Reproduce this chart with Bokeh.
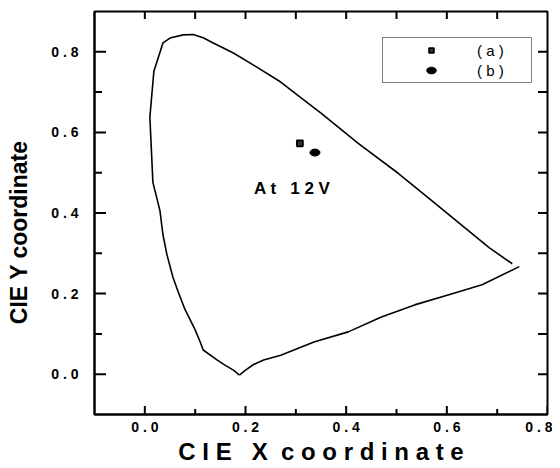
import math
from bokeh.plotting import figure
from bokeh.models import (FixedTicker, Range1d, CustomJSTickFormatter,
                          Label, Legend, LegendItem)
from bokeh.embed import file_html
from bokeh.resources import INLINE

# Spectral locus, from the bottom vertex up the left side,
# over the top and down to the red end
locus_x = [0.188, 0.176, 0.160, 0.144, 0.116, 0.110, 0.100, 0.080, 0.066, 0.056, 0.044,
           0.036, 0.030, 0.016, 0.010, 0.018, 0.036, 0.050, 0.076, 0.096, 0.116, 0.136,
           0.176, 0.216, 0.270, 0.304, 0.350, 0.424, 0.504, 0.570, 0.650, 0.684, 0.730]
locus_y = [-0.002, 0.010, 0.022, 0.035, 0.060, 0.080, 0.110, 0.160, 0.205, 0.240, 0.296,
           0.346, 0.406, 0.476, 0.638, 0.752, 0.822, 0.834, 0.842, 0.843, 0.835, 0.822,
           0.797, 0.767, 0.725, 0.692, 0.648, 0.573, 0.498, 0.431, 0.349, 0.314, 0.274]
# Purple line from the red end back to the vertex
purple_x = [0.744, 0.670, 0.604, 0.536, 0.470, 0.404, 0.336, 0.270, 0.236, 0.216, 0.200, 0.188]
purple_y = [0.267, 0.222, 0.197, 0.172, 0.142, 0.105, 0.080, 0.047, 0.035, 0.024, 0.010, -0.002]

a_x = [0.308]
a_y = [0.573]
b_x = [0.338]
b_y = [0.550]

major_ticks = [0.0, 0.2, 0.4, 0.6, 0.8]
minor_ticks = [0.1, 0.3, 0.5, 0.7]
top_ticks = [0.0, 0.1, 0.2, 0.3, 0.4, 0.5, 0.6, 0.7]
right_ticks = [0.0, 0.1, 0.2, 0.3, 0.4, 0.5, 0.6, 0.7, 0.8]

FONT = "Liberation Sans"
NB = "\u00a0"

W, H = 552, 468
BL, BR, BT, BB = 94, 5, 11, 54
xr = Range1d(-0.1, 0.8)
yr = Range1d(-0.1, 0.9)
p = figure(width=W, height=H, x_range=xr, y_range=yr,
           output_backend="svg", toolbar_location=None,
           min_border_left=BL, min_border_right=BR, min_border_top=BT, min_border_bottom=BB)
p.xgrid.visible = False
p.ygrid.visible = False
p.outline_line_color = "black"
p.outline_line_width = 2

fmt = CustomJSTickFormatter(code="return tick.toFixed(1).split('').join(' ')")

xa = p.below[0]
xa.major_label_standoff = 4
xa.axis_label = "C I E" + NB + NB + " X" + NB + " c o o r d i n a t e"
xa.axis_label_standoff = 0
xa.axis_label_text_font_size = "24px"

ya = p.left[0]
ya.major_label_standoff = 16
ya.axis_label = "CIE Y coordinate" + NB * 6
ya.axis_label_standoff = 16
ya.axis_label_text_font_size = "23px"

for ax in (xa, ya):
    ax.ticker = FixedTicker(ticks=major_ticks, minor_ticks=[])
    ax.formatter = fmt
    ax.major_tick_in = 0
    ax.major_tick_out = 0
    ax.minor_tick_in = 0
    ax.minor_tick_out = 0
    ax.axis_line_width = 2
    ax.major_label_text_font = FONT
    ax.major_label_text_font_style = "bold"
    ax.major_label_text_font_size = "14px"
    ax.major_label_text_color = "black"
    ax.axis_label_text_font = FONT
    ax.axis_label_text_font_style = "bold"
    ax.axis_label_text_color = "black"

p.line(locus_x, locus_y, line_color="black", line_width=1.6)
p.line(purple_x, purple_y, line_color="black", line_width=1.6)

ra = p.scatter(a_x, a_y, marker="square", size=6, fill_color="#333333",
               line_color="black", line_width=1.8)
rb = p.ellipse(b_x, b_y, width=10, height=7, width_units="screen", height_units="screen",
               fill_color="black", line_color="black")

# Inward tick marks: dash markers centred half a tick length inside the frame edges
dx = (xr.end - xr.start) / (W - BL - BR)
dy = (yr.end - yr.start) / (H - BT - BB)

def vticks(xs, y_edge, length_px):
    yc = y_edge + (length_px / 2.0) * dy
    p.scatter(xs, [yc] * len(xs), marker="dash", size=abs(length_px) + 1,
              angle=math.pi / 2, line_color="black", line_width=2)

def hticks(ys, x_edge, length_px):
    xc = x_edge + (length_px / 2.0) * dx
    p.scatter([xc] * len(ys), ys, marker="dash", size=abs(length_px) + 1,
              angle=0, line_color="black", line_width=2)

vticks(major_ticks, yr.start, 8)
vticks(minor_ticks, yr.start, 5)
vticks(top_ticks, yr.end, -7)
hticks(major_ticks, xr.start, 11)
hticks(minor_ticks, xr.start, 7)
hticks(right_ticks, xr.end, -9)

legend = Legend(items=[LegendItem(label="( a )" + NB * 6, renderers=[ra]),
                       LegendItem(label="( b )" + NB * 6, renderers=[rb])],
                location=(288, 331), padding=2, spacing=0, margin=0,
                glyph_width=92, glyph_height=12, label_height=20,
                label_standoff=0, label_text_font=FONT, label_text_font_size="15px",
                label_text_color="black",
                border_line_color="black", border_line_width=1.5,
                background_fill_color="white", background_fill_alpha=1)
p.add_layout(legend)

p.add_layout(Label(x=0.217, y=0.461, text="A t" + NB * 3 + "1 2 V", text_baseline="middle",
                   text_font=FONT, text_font_style="bold", text_font_size="17px",
                   text_color="black"))

open("out.html", "w").write(file_html(p, INLINE))
